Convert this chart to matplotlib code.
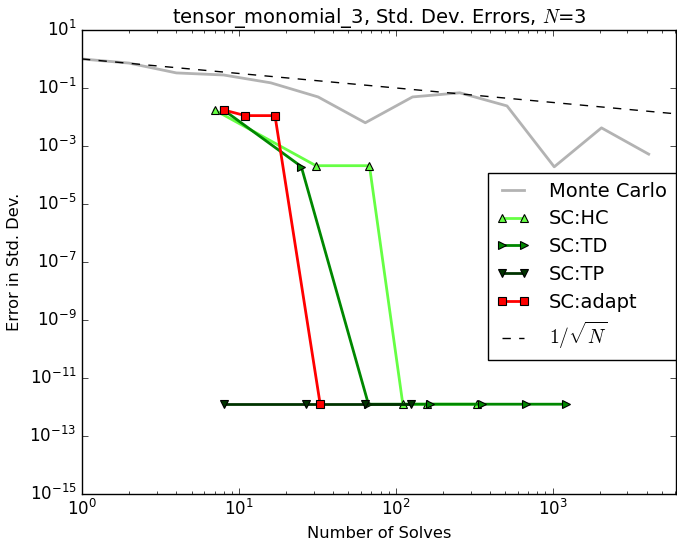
import matplotlib
matplotlib.use("Agg")
import matplotlib.pyplot as plt
import numpy as np

plt.style.use("classic")

# Monte Carlo sampling errors
mc_n = [1, 2, 4, 8, 16, 32, 64, 128, 256, 512, 1024, 2048, 4096]
mc_err = [1.0, 0.72, 0.33, 0.28, 0.15, 0.049, 0.0063, 0.049, 0.068, 0.024, 1.9e-4, 4.2e-3, 5.2e-4]

# Stochastic collocation errors
hc_n = [7, 31, 68, 111, 158, 331]
hc_err = [0.0174, 2.08e-4, 2.08e-4, 1.23e-12, 1.23e-12, 1.23e-12]

td_n = [8, 25, 67, 165, 354, 678, 1222]
td_err = [0.0174, 1.95e-4, 1.23e-12, 1.23e-12, 1.23e-12, 1.23e-12, 1.23e-12]

tp_n = [8, 27, 64, 125]
tp_err = [1.23e-12, 1.23e-12, 1.23e-12, 1.23e-12]

ad_n = [8, 11, 17, 33]
ad_err = [0.0174, 0.0111, 0.0111, 1.23e-12]

ref_n = np.array([1.0, 6144.0])

fig = plt.figure(figsize=(6.77, 5.45), dpi=100)
ax = fig.add_axes([0.121, 0.094, 0.878, 0.851])

ax.loglog(mc_n, mc_err, color="#b3b3b3", lw=2, label="Monte Carlo")
ax.loglog(hc_n, hc_err, color="#66ff44", lw=2, marker="^", ms=6,
          mfc="#66ff44", mec="black", mew=0.8, label="SC:HC")
ax.loglog(td_n, td_err, color="#008800", lw=2, marker=">", ms=6,
          mfc="#008800", mec="black", mew=0.8, label="SC:TD")
ax.loglog(tp_n, tp_err, color="#003300", lw=2, marker="v", ms=6,
          mfc="#003300", mec="black", mew=0.8, label="SC:TP")
ax.loglog(ad_n, ad_err, color="#ff0000", lw=2, marker="s", ms=6,
          mfc="#ff0000", mec="black", mew=0.8, label="SC:adapt")
ax.loglog(ref_n, 1.0 / np.sqrt(ref_n), "k--", lw=1, label=r"$1/\sqrt{N}$")

ax.set_xlim(1, 6144)
ax.set_ylim(1e-15, 1e1)
ax.set_xlabel("Number of Solves", fontsize=11.7)
ax.set_ylabel("Error in Std. Dev.", fontsize=11.7)
ax.set_title(r"tensor_monomial_3, Std. Dev. Errors, $N$=3", fontsize=14)
ax.tick_params(labelsize=12)

ax.legend(loc="upper right", bbox_to_anchor=(0.999, 0.692), fontsize=14,
          numpoints=2, handlelength=1.7, handletextpad=1.0, borderpad=0.45,
          labelspacing=0.45, borderaxespad=0.0,
          frameon=True, fancybox=False)

fig.savefig("out.png", dpi=100)
